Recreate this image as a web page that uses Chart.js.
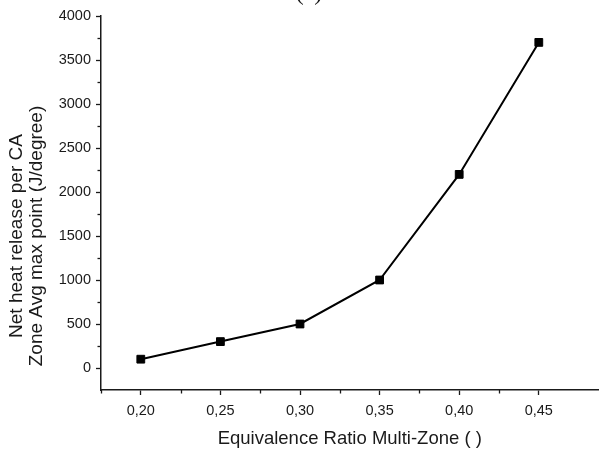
<!DOCTYPE html>
<html><head><meta charset="utf-8">
<script src="https://cdn.jsdelivr.net/npm/chart.js@4/dist/chart.umd.min.js"></script>
<style>html,body{margin:0;padding:0;background:#fff}#wrap{width:605px;height:450px}</style>
</head><body><div id="wrap"><canvas id="c" width="605" height="450"></canvas></div>
<script>
const xValues = [0.20, 0.25, 0.30, 0.35, 0.40, 0.45];
const yValues = [100, 300, 500, 1000, 2200, 3700];
const xTicks = [0.20, 0.25, 0.30, 0.35, 0.40, 0.45];
const xMinorTicks = [0.175, 0.225, 0.275, 0.325, 0.375, 0.425];
const yTicks = [0, 500, 1000, 1500, 2000, 2500, 3000, 3500, 4000];
const yMinorTicks = [-250, 250, 750, 1250, 1750, 2250, 2750, 3250, 3750];
const titleText = "(c)";
const xTitle = "Equivalence Ratio Multi-Zone ( )";
const yTitleLines = ["Net heat release per CA", "Zone Avg max point (J/degree)"];

const FONT = "'Liberation Sans', Arial, sans-serif";
const INK = "#1a1a1a";

const extras = {
  id: 'extras',
  afterDraw(chart) {
    const ctx = chart.ctx;
    const xs = chart.scales.x, ys = chart.scales.y;
    ctx.save();
    ctx.strokeStyle = INK; ctx.lineWidth = 1.3;
    xMinorTicks.forEach(v => {
      const px = Math.round(xs.getPixelForValue(v)) + 0.5;
      ctx.beginPath(); ctx.moveTo(px, xs.top); ctx.lineTo(px, xs.top + 3.5); ctx.stroke();
    });
    yMinorTicks.forEach(v => {
      const py = Math.round(ys.getPixelForValue(v)) + 0.5;
      if (py > ys.bottom - 1) return;
      ctx.beginPath(); ctx.moveTo(ys.right, py); ctx.lineTo(ys.right - 3.5, py); ctx.stroke();
    });
    ctx.fillStyle = INK;
    ctx.font = "24px 'Liberation Serif', 'Times New Roman', serif";
    ctx.textAlign = 'center'; ctx.textBaseline = 'alphabetic';
    ctx.fillText(titleText, 309, 0);
    ctx.font = "19px " + FONT;
    ctx.translate(0, 236);
    ctx.rotate(-Math.PI / 2);
    ctx.textBaseline = 'middle';
    ctx.fillText(yTitleLines[0], 0, 17);
    ctx.fillText(yTitleLines[1], 0, 37);
    ctx.restore();
  }
};

new Chart(document.getElementById('c'), {
  type: 'scatter',
  data: {
    datasets: [{
      data: xValues.map((x, i) => ({ x: x, y: yValues[i] })),
      showLine: true,
      borderColor: '#000',
      backgroundColor: '#000',
      borderWidth: 2,
      pointStyle: 'rect',
      pointRadius: 5.5,
      pointBorderWidth: 1,
      pointBackgroundColor: '#000',
      pointBorderColor: '#000',
      tension: 0
    }]
  },
  options: {
    responsive: false,
    animation: false,
    devicePixelRatio: 1,
    layout: { padding: { top: 16, right: 0, left: 0, bottom: 0 } },
    plugins: { legend: { display: false }, tooltip: { enabled: false }, title: { display: false } },
    scales: {
      x: {
        type: 'linear', min: 0.175, max: 0.4875,
        afterBuildTicks: s => { s.ticks = xTicks.map(v => ({ value: v })); },
        afterFit: s => { s.height = 60; },
        border: { display: true, color: INK, width: 1.5 },
        grid: { display: true, drawOnChartArea: false, drawTicks: true, tickLength: 5, tickColor: INK, tickWidth: 1.3 },
        ticks: { color: INK, font: { family: FONT, size: 14.5 }, padding: 7, maxRotation: 0,
          callback: v => Number(v).toFixed(2).replace('.', ',') },
        title: { display: true, text: xTitle, color: INK, font: { family: FONT, size: 18.5 }, padding: { top: 4, bottom: 0 } }
      },
      y: {
        type: 'linear', min: -250, max: 4000,
        afterBuildTicks: s => { s.ticks = yTicks.map(v => ({ value: v })); },
        afterFit: s => { s.width = 101; },
        border: { display: true, color: INK, width: 1.5 },
        grid: { display: true, drawOnChartArea: false, drawTicks: true, tickLength: 5, tickColor: INK, tickWidth: 1.3 },
        ticks: { color: INK, font: { family: FONT, size: 14.5 }, padding: 5, callback: v => String(v) }
      }
    }
  },
  plugins: [extras]
});
</script>
</body></html>
